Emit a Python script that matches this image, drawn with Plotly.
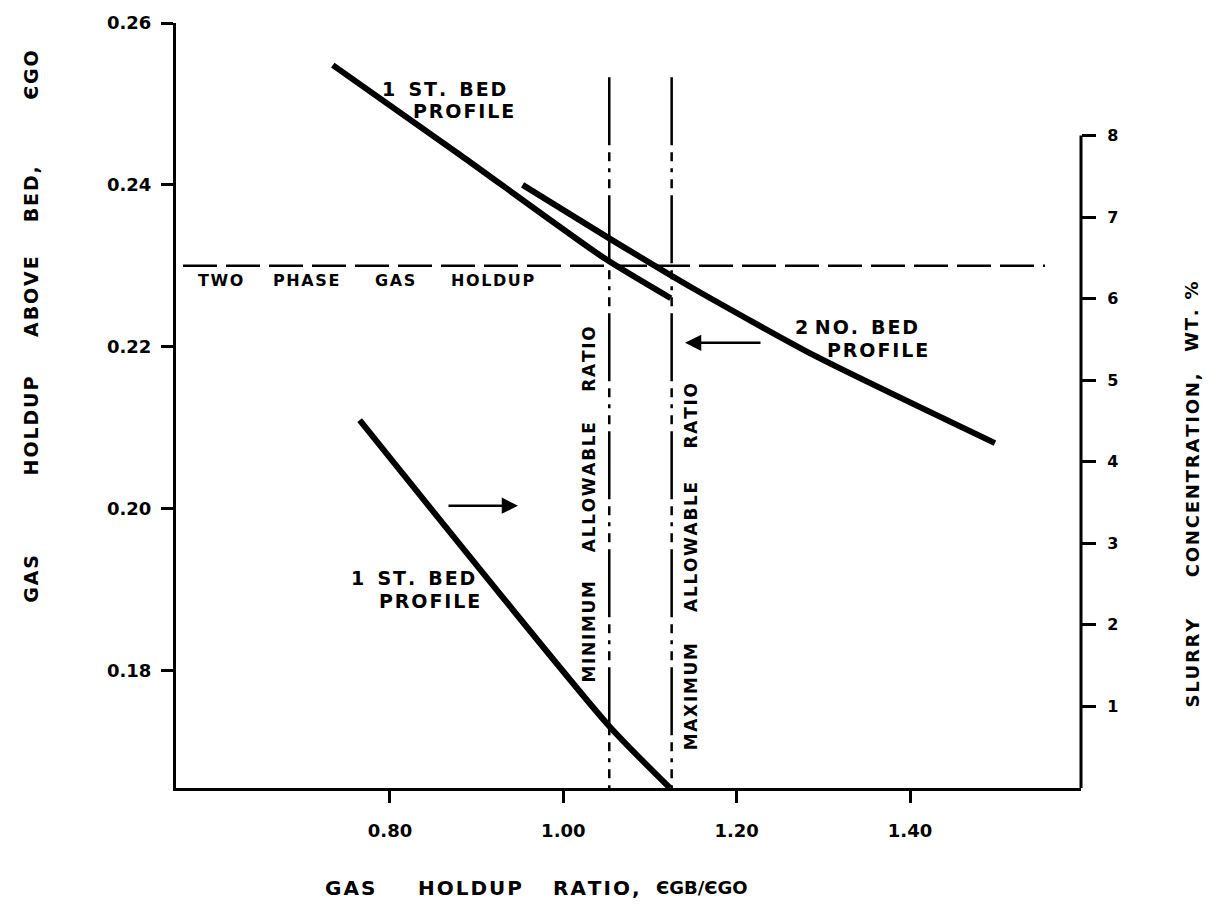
import plotly.graph_objects as go

# ---------------- data ----------------
# upper "1 ST. BED PROFILE" (left axis: gas holdup above bed)
bed1_ratio = [0.734, 0.881, 1.048, 1.124]
bed1_holdup = [0.2548, 0.2437, 0.2309, 0.2260]

# "2 NO. BED PROFILE" (left axis)
bed2_ratio = [0.953, 1.053, 1.150, 1.290, 1.498]
bed2_holdup = [0.2400, 0.2334, 0.2272, 0.2189, 0.2081]

# lower "1 ST. BED PROFILE" (right axis: slurry concentration, wt.%)
slurry_ratio = [0.765, 1.052, 1.123]
slurry_conc = [4.51, 0.77, 0.0]

# limits
allowable_ratios = [1.053, 1.125]          # minimum, maximum allowable ratio
two_phase_holdup = [0.23]                   # two phase gas holdup

x_ticks = [0.80, 1.00, 1.20, 1.40]
x_ticktext = ["0.80", "1.00", "1.20", "1.40"]
y_ticks = [0.18, 0.20, 0.22, 0.24, 0.26]
y_ticktext = ["0.18", "0.20", "0.22", "0.24", "0.26"]
y2_ticks = [1, 2, 3, 4, 5, 6, 7, 8]
y2_ticktext = ["1", "2", "3", "4", "5", "6", "7", "8"]

# ---------------- figure ----------------
FONT = "DejaVu Sans"
BLACK = "black"
HS = "\u200a"  # hair space for wider letter spacing
EPS = "Є"

# plot-area geometry (pixels) used to place free text
L, R, T, B = 176, 1081, 20, 788


def spaced(word):
    return HS.join(word)


fig = go.Figure()

for xs, ys, ax in [(bed1_ratio, bed1_holdup, "y"), (bed2_ratio, bed2_holdup, "y"),
                   (slurry_ratio, slurry_conc, "y2")]:
    fig.add_trace(go.Scatter(x=xs, y=ys, mode="lines", yaxis=ax,
                             line=dict(color=BLACK, width=6, shape="spline", smoothing=0.6),
                             showlegend=False, hoverinfo="skip"))

# vertical allowable-ratio lines (dash-dot style)
V_TOP, V_BOT = 0.2533, 0.1655
for r in allowable_ratios:
    fig.add_trace(go.Scatter(x=[r, r], y=[V_TOP, V_BOT], mode="lines",
                             line=dict(color=BLACK, width=2.5,
                                       dash="68px,7px,9px,7px,4px,7px,9px,7px"),
                             showlegend=False, hoverinfo="skip"))

# horizontal two phase gas holdup
for h in two_phase_holdup:
    fig.add_trace(go.Scatter(x=[0.5612, 1.5557], y=[h, h], mode="lines",
                             line=dict(color=BLACK, width=2.5, dash="34px,9px"),
                             showlegend=False, hoverinfo="skip"))

# right axis line (only from 0 to 8)
fig.add_shape(type="line", xref="paper", yref="y2", x0=1, x1=1, y0=0, y1=8,
              line=dict(color=BLACK, width=3))


def label(text, px, py, size=19, angle=0):
    """text centred at pixel position (px, py) of the page"""
    fig.add_annotation(text=text, x=(px - L) / (R - L), y=(B - py) / (B - T),
                       xref="paper", yref="paper", showarrow=False,
                       textangle=angle, xanchor="center", yanchor="middle",
                       font=dict(family=FONT, size=size, color=BLACK, weight="bold"))


# curve labels
label(spaced("1") + "  " + spaced("ST.") + "  " + spaced("BED"), 444, 86)
label(spaced("PROFILE"), 463, 108)
label(spaced("2") + " " + spaced("NO.") + "  " + spaced("BED"), 856, 325)
label(spaced("PROFILE"), 877, 348)
label(spaced("1") + "  " + spaced("ST.") + "  " + spaced("BED"), 413, 577)
label(spaced("PROFILE"), 429, 600)

for w, cx in [("TWO", 220), ("PHASE", 306), ("GAS", 395), ("HOLDUP", 492)]:
    label(spaced(w), cx, 279, size=16)

for w, cy in [("MINIMUM", 631), ("ALLOWABLE", 486), ("RATIO", 358)]:
    label(spaced(w), 589, cy, size=17, angle=-90)
for w, cy in [("MAXIMUM", 697), ("ALLOWABLE", 546), ("RATIO", 415)]:
    label(spaced(w), 691, cy, size=17, angle=-90)

# arrows
fig.add_annotation(x=1.1404, y=0.22049, xref="x", yref="y", text="", showarrow=True,
                   ax=77, ay=0, arrowhead=2, arrowsize=1.3, arrowwidth=2.5, arrowcolor=BLACK)
fig.add_annotation(x=0.9477, y=0.20037, xref="x", yref="y", text="", showarrow=True,
                   ax=-71, ay=0, arrowhead=2, arrowsize=1.3, arrowwidth=2.5, arrowcolor=BLACK)

# axis titles (word by word, widely spaced as in the original lettering)
for w, cy in [("GAS", 578), ("HOLDUP", 425), ("ABOVE", 295), ("BED,", 192), (EPS + "GO", 73)]:
    label(spaced(w), 31, cy, size=19, angle=-90)
for w, cy in [("SLURRY", 662), ("CONCENTRATION,", 474), ("WT. %", 315)]:
    label(spaced(w), 1192, cy, size=18, angle=-90)
for w, cx in [("GAS", 350), ("HOLDUP", 470), ("RATIO,", 596)]:
    label(spaced(w), cx, 888, size=20)
label(EPS + "GB/" + EPS + "GO", 702, 888, size=18)

tickfont = dict(family=FONT, size=18, color=BLACK, weight="bold")

fig.update_layout(
    width=1218, height=922,
    margin=dict(l=L, r=1218 - R, t=T, b=922 - B),
    paper_bgcolor="white", plot_bgcolor="white",
    xaxis=dict(range=[0.5531, 1.5973], tickvals=x_ticks, ticktext=x_ticktext,
               ticks="outside", ticklen=12, tickwidth=2.5, tickcolor=BLACK,
               showline=True, linewidth=3, linecolor=BLACK, showgrid=False,
               zeroline=False, tickfont=tickfont, ticklabelstandoff=12),
    yaxis=dict(range=[0.1655, 0.26], tickvals=y_ticks, ticktext=y_ticktext,
               ticks="outside", ticklen=12, tickwidth=2.5, tickcolor=BLACK,
               showline=True, linewidth=3, linecolor=BLACK, showgrid=False,
               zeroline=False, tickfont=tickfont, ticklabelstandoff=6),
    yaxis2=dict(range=[0, 9.38], overlaying="y", side="right", tickvals=y2_ticks,
                ticktext=y2_ticktext, ticks="outside", ticklen=14, tickwidth=2.5,
                tickcolor=BLACK, showline=False, showgrid=False, zeroline=False,
                tickfont=dict(family=FONT, size=16, color=BLACK, weight="bold"),
                ticklabelstandoff=8),
)

fig.write_html("out.html")
